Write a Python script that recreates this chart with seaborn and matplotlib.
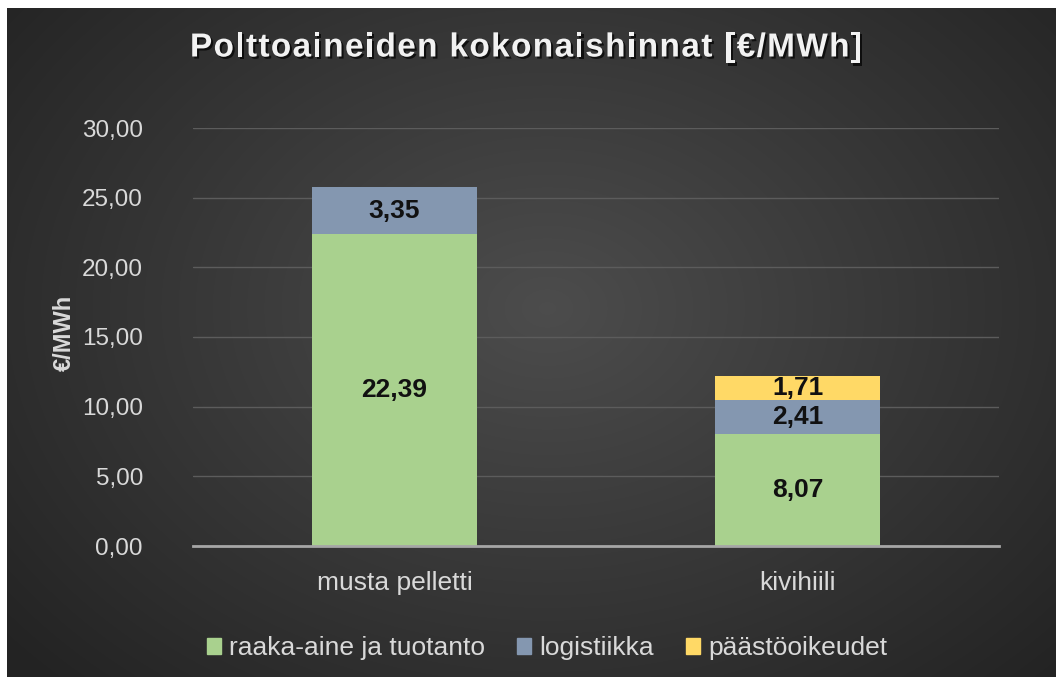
import numpy as np
import pandas as pd
import matplotlib
matplotlib.use("Agg")
from matplotlib import pyplot as plt
import matplotlib.patheffects as pe
from matplotlib.font_manager import FontProperties
from matplotlib.ticker import FuncFormatter
import seaborn as sns

categories = ["musta pelletti", "kivihiili"]
series = ["raaka-aine ja tuotanto", "logistiikka", "päästöoikeudet"]
raaka_aine = [22.39, 8.07]
logistiikka = [3.35, 2.41]
paastot = [0.0, 1.71]
colors = ["#A9D18E", "#8497B0", "#FFD966"]
title = "Polttoaineiden kokonaishinnat [€/MWh]"

sns.set_theme(style="dark")
plt.rcParams['font.family'] = ['Liberation Sans', 'DejaVu Sans']

vals = {series[0]: raaka_aine, series[1]: logistiikka, series[2]: paastot}
rows = []
for i, cat in enumerate(categories):
    bottom = 0.0
    for s in series:
        v = vals[s][i]
        rows.append({"kategoria": cat, "sarja": s, "arvo": v,
                     "top": bottom + v, "mid": bottom + v / 2})
        bottom += v
df = pd.DataFrame(rows)

W, H = 1056, 677
fig = plt.figure(figsize=(W / 100, H / 100), dpi=100)
fig.patch.set_facecolor("white")

# dark radial background
bg = fig.add_axes([7 / W, 0, 1 - 7 / W, 1 - 8 / H], zorder=-10)
yy, xx = np.mgrid[0:669, 0:1049]
r = np.sqrt(((xx - 540) / 700.0) ** 2 + ((yy - 300) / 520.0) ** 2)
shade = np.clip(0.30 - 0.16 * r, 0.14, 0.30)
bg.imshow(np.dstack([shade] * 3), aspect="auto", interpolation="bilinear")
bg.axis("off")

ax = fig.add_axes([193 / W, 1 - 546 / H, 806 / W, 418 / H])
ax.set_facecolor("none")

# stacked bars: draw cumulative heights from top segment down
for s, c in reversed(list(zip(series, colors))):
    sub = df[df["sarja"] == s]
    sns.barplot(data=sub, x="kategoria", y="top", color=c, width=0.41,
                saturation=1, ax=ax, order=categories, zorder=3,
                linewidth=0, edgecolor="none")

for _, row in df.iterrows():
    if row["arvo"] <= 0:
        continue
    xi = categories.index(row["kategoria"])
    ax.text(xi, row["mid"], f"{row['arvo']:.2f}".replace(".", ","),
            ha="center", va="center", fontsize=19, fontweight="bold",
            color="#111111", zorder=5)

ax.set_ylim(0, 30)
ax.set_yticks(np.arange(0, 31, 5))
ax.yaxis.set_major_formatter(FuncFormatter(lambda v, p: f"{v:.2f}".replace(".", ",")))
ax.grid(axis="y", color="#5c5c5c", linewidth=1)
ax.grid(axis="x", visible=False)
for sp in ["top", "right", "left"]:
    ax.spines[sp].set_visible(False)
ax.spines["bottom"].set_color("#a6a6a6")
ax.spines["bottom"].set_linewidth(2)
ax.spines["bottom"].set_zorder(6)
ax.tick_params(axis="y", colors="#d9d9d9", labelsize=17.5, length=0, pad=36)
ax.tick_params(axis="x", colors="#d9d9d9", labelsize=19, length=0, pad=18)
ax.set_xlabel("")
ax.set_ylabel("€/MWh", color="#d9d9d9", fontsize=17, fontweight="bold")
ax.yaxis.set_label_coords((76 - 193) / 806, 0.51)

# title with letter spacing, laid out character by character
fig.canvas.draw()
renderer = fig.canvas.get_renderer()
prop = FontProperties(family=['Liberation Sans', 'DejaVu Sans'], weight="bold", size=24)
ref_w = renderer.get_text_width_height_descent("x", prop, ismath=False)[0]
offs = [renderer.get_text_width_height_descent(title[:i] + "x", prop, ismath=False)[0] - ref_w
        for i in range(len(title) + 1)]
natural = offs[-1]
x0, x1 = 190, 862
track = (x1 - x0 - natural) / (len(title) - 1)
shadow = [pe.SimplePatchShadow(offset=(1.5, -1.5), shadow_rgbFace="black", alpha=0.7), pe.Normal()]
for i, ch in enumerate(title):
    if ch == " ":
        continue
    fig.text((x0 + offs[i] + i * track) / W, 1 - 48 / H, ch, ha="left", va="center",
             fontproperties=prop, color="#f2f2f2", path_effects=shadow)

handles = [plt.Rectangle((0, 0), 1, 1, color=c) for c in colors]
fig.legend(handles, series, loc="center", bbox_to_anchor=(547 / W, 1 - 648 / H), ncol=3,
           frameon=False, fontsize=19, labelcolor="#d9d9d9", handlelength=0.55,
           handleheight=0.55, handletextpad=0.3, columnspacing=1.2)

fig.savefig("out.png", dpi=100)
